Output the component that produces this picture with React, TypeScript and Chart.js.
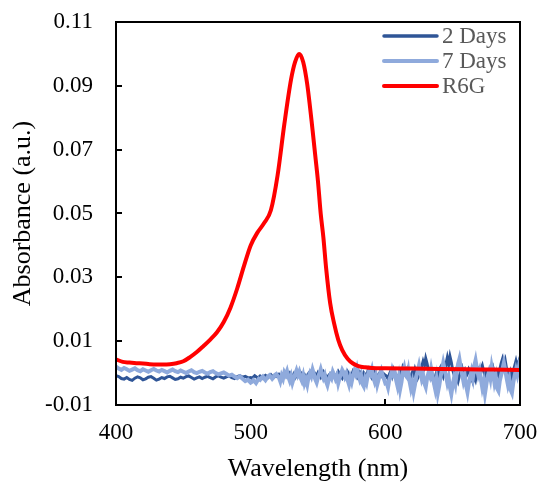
import React, { useEffect, useRef } from "react";
import { Chart, registerables } from "chart.js";

Chart.register(...registerables);

// Baseline spectra wavelength grid (nm): 2 nm steps to 498, then 1 nm steps
const noiseWavelengths = [
  400,402,404,406,408,410,412,414,416,418,420,422,424,426,428,430,432,434,436,438,440,442,444,446,448,450,452,454,456,458,460,462,464,466,468,470,472,474,476,478,480,
  482,484,486,488,490,492,494,496,498,
  500,501,502,503,504,505,506,507,508,509,510,511,512,513,514,515,516,517,518,519,520,
  521,522,523,524,525,526,527,528,529,530,531,532,533,534,535,536,537,538,539,540,
  541,542,543,544,545,546,547,548,549,550,551,552,553,554,555,556,557,558,559,560,
  561,562,563,564,565,566,567,568,569,570,571,572,573,574,575,576,577,578,579,580,
  581,582,583,584,585,586,587,588,589,590,591,592,593,594,595,596,597,598,599,600,
  601,602,603,604,605,606,607,608,609,610,611,612,613,614,615,616,617,618,619,620,
  621,622,623,624,625,626,627,628,629,630,631,632,633,634,635,636,637,638,639,640,
  641,642,643,644,645,646,647,648,649,650,651,652,653,654,655,656,657,658,659,660,
  661,662,663,664,665,666,667,668,669,670,671,672,673,674,675,676,677,678,679,680,
  681,682,683,684,685,686,687,688,689,690,691,692,693,694,695,696,697,698,699,700,
];

const days2 = [
  -0.0008,-0.0011,-0.0017,-0.0019,-0.0014,-0.0020,-0.0023,-0.0016,-0.0012,-0.0015,-0.0021,-0.0018,-0.0013,-0.0011,-0.0016,-0.0022,-0.0019,-0.0014,-0.0017,-0.0012,-0.0010,-0.0015,-0.0020,-0.0018,-0.0013,-0.0016,-0.0011,-0.0009,-0.0014,-0.0019,-0.0015,-0.0012,-0.0017,-0.0013,-0.0010,-0.0014,-0.0018,-0.0012,-0.0009,-0.0013,-0.0016,
  -0.0012,-0.0009,-0.0014,-0.0017,-0.0011,-0.0008,-0.0013,-0.0010,-0.0015,
  -0.0014,-0.0017,-0.0012,-0.0008,-0.0011,-0.0015,-0.0013,-0.0009,-0.0012,-0.0016,-0.0010,-0.0007,-0.0011,-0.0014,-0.0009,-0.0005,-0.0010,-0.0013,-0.0008,-0.0011,-0.0009,
  -0.0004,-0.0010,-0.0006,-0.0014,-0.0002,-0.0008,-0.0012,-0.0004,0.0001,-0.0006,
  -0.0011,-0.0003,-0.0015,-0.0008,-0.0002,-0.0009,0.0002,-0.0004,-0.0012,-0.0006,
  -0.0016,-0.0008,-0.0001,-0.0007,0.0003,-0.0005,-0.0011,-0.0003,-0.0009,0.0001,
  -0.0006,-0.0013,-0.0004,0.0004,-0.0003,-0.0010,-0.0017,-0.0007,-0.0002,-0.0009,
  0.0002,-0.0005,-0.0012,-0.0004,0.0005,-0.0002,-0.0010,-0.0016,-0.0006,0.0000,
  -0.0008,0.0004,-0.0003,-0.0011,-0.0005,0.0006,-0.0001,-0.0009,-0.0014,-0.0004,
  0.0003,-0.0006,-0.0012,0.0001,-0.0004,-0.0010,0.0005,-0.0002,-0.0008,-0.0015,
  -0.0005,0.0004,-0.0003,-0.0011,-0.0006,0.0002,-0.0008,-0.0013,-0.0003,-0.0007,
  -0.0010,-0.0018,-0.0004,0.0006,-0.0008,0.0012,0.0002,-0.0012,-0.0020,-0.0006,
  0.0004,-0.0010,0.0016,0.0006,-0.0004,0.0008,-0.0014,-0.0026,-0.0008,0.0002,
  -0.0006,0.0012,-0.0002,-0.0016,-0.0006,0.0006,0.0020,0.0036,0.0022,0.0046,
  0.0030,0.0008,-0.0006,0.0004,-0.0018,-0.0030,-0.0012,0.0002,-0.0008,0.0010,
  0.0018,0.0002,-0.0010,0.0006,0.0028,0.0048,0.0026,0.0052,0.0034,0.0010,
  -0.0004,0.0006,-0.0014,-0.0026,-0.0008,0.0004,0.0016,-0.0002,0.0008,-0.0010,
  -0.0002,0.0012,0.0004,-0.0016,-0.0028,-0.0010,-0.0022,0.0000,0.0010,-0.0004,
  0.0014,0.0024,0.0006,-0.0008,0.0002,-0.0012,-0.0004,0.0010,0.0002,0.0016,
  -0.0002,-0.0012,0.0004,-0.0006,0.0012,0.0030,0.0044,0.0026,0.0040,0.0014,
  0.0000,-0.0010,0.0004,-0.0014,0.0006,0.0022,0.0038,0.0020,0.0034,0.0012,
];

const days7 = [
  0.0020,0.0014,0.0010,0.0016,0.0012,0.0007,0.0011,0.0015,0.0009,0.0006,0.0012,0.0008,0.0004,0.0009,0.0013,0.0008,0.0005,0.0010,0.0006,0.0002,0.0007,0.0011,0.0006,0.0003,0.0008,0.0004,0.0000,0.0005,0.0009,0.0003,0.0000,0.0004,0.0007,0.0002,-0.0002,0.0003,0.0006,0.0000,-0.0004,-0.0001,0.0002,
  -0.0003,-0.0008,-0.0005,-0.0011,-0.0016,-0.0010,-0.0018,-0.0025,-0.0021,
  -0.0030,-0.0027,-0.0022,-0.0026,-0.0031,-0.0024,-0.0018,-0.0021,-0.0015,-0.0011,-0.0017,-0.0022,-0.0016,-0.0010,-0.0007,-0.0012,-0.0018,-0.0013,-0.0006,-0.0003,-0.0009,
  -0.0014,-0.0026,-0.0008,-0.0018,0.0002,-0.0006,0.0006,-0.0012,-0.0024,-0.0010,
  -0.0030,-0.0016,-0.0004,0.0008,-0.0006,0.0004,-0.0014,-0.0024,-0.0008,-0.0032,
  -0.0020,-0.0036,-0.0012,0.0000,-0.0010,0.0010,-0.0004,-0.0020,-0.0030,-0.0014,
  -0.0002,0.0012,-0.0004,-0.0016,-0.0006,-0.0026,-0.0038,-0.0020,-0.0008,-0.0016,
  0.0004,-0.0006,-0.0018,-0.0008,-0.0032,-0.0016,-0.0004,0.0010,0.0002,-0.0012,
  -0.0002,-0.0022,-0.0036,-0.0014,-0.0028,-0.0008,0.0006,-0.0004,0.0014,-0.0006,
  -0.0020,-0.0008,-0.0034,-0.0042,-0.0018,-0.0030,-0.0006,0.0008,-0.0002,0.0012,
  -0.0012,-0.0026,-0.0010,-0.0036,-0.0020,-0.0004,0.0008,-0.0008,-0.0018,-0.0032,
  -0.0030,-0.0045,-0.0020,-0.0008,0.0010,-0.0005,0.0002,-0.0022,-0.0040,-0.0015,
  -0.0050,-0.0028,0.0004,0.0018,-0.0006,-0.0012,0.0008,-0.0026,-0.0048,-0.0030,
  -0.0058,-0.0036,-0.0010,0.0006,0.0024,0.0002,-0.0018,-0.0004,-0.0032,-0.0044,
  -0.0016,0.0000,-0.0010,0.0014,-0.0008,-0.0030,-0.0050,-0.0022,-0.0062,-0.0040,
  -0.0012,0.0010,0.0032,0.0012,-0.0008,-0.0030,-0.0014,-0.0046,-0.0066,-0.0038,
  -0.0016,-0.0034,0.0002,0.0028,0.0044,0.0018,-0.0004,-0.0026,-0.0010,-0.0040,
  -0.0060,-0.0032,-0.0012,0.0006,-0.0014,0.0022,0.0040,0.0014,-0.0006,0.0008,
  -0.0020,-0.0046,-0.0028,-0.0064,-0.0036,-0.0010,0.0004,-0.0016,0.0020,-0.0002,
  -0.0030,-0.0012,-0.0048,-0.0056,-0.0024,-0.0006,0.0012,0.0032,0.0010,-0.0014,
  -0.0036,-0.0018,-0.0052,-0.0062,-0.0030,-0.0008,0.0010,-0.0006,0.0016,-0.0004,
];

const r6gWavelengths = [
  400,405,410,415,420,425,430,435,440,445,450,455,460,465,470,475,480,485,490,495,500,505,510,515,520,525,530,533,536,539,542,546,548,550,552,554,556,559,562,565,568,572,576,580,585,590,600,620,640,660,680,700,
];
const r6g = [
  0.0043,0.0035,0.0033,0.0031,0.0030,0.0028,0.0027,0.0027,0.0028,0.0031,0.0037,0.0050,0.0066,0.0085,0.0105,0.0128,0.0160,0.0205,0.0265,0.0335,0.0400,0.0440,0.0470,0.0510,0.0620,0.0780,0.0920,0.0975,0.1000,0.0975,0.0905,0.0760,0.0680,0.0600,0.0500,0.0425,0.0330,0.0220,0.0155,0.0105,0.0072,0.0045,0.0030,0.0022,0.0018,0.0016,0.0015,0.0014,0.0013,0.0012,0.0011,0.0010,
];

const xTicks = [400, 500, 600, 700];
const yTicks = [-0.01, 0.01, 0.03, 0.05, 0.07, 0.09, 0.11];

const FONT = "'Liberation Serif', 'Times New Roman', serif";

const frameLegendPlugin = {
  id: "frameLegend",
  afterDatasetsDraw(chart: any) {
    const { ctx, chartArea } = chart;
    const { left, right, top, bottom } = chartArea;
    const xs = chart.scales.x;
    const ys = chart.scales.y;
    ctx.save();
    ctx.strokeStyle = "#000";
    ctx.lineWidth = 2;
    ctx.strokeRect(left, top, right - left, bottom - top);
    ys.ticks.forEach((t: any) => {
      const py = Math.round(ys.getPixelForValue(t.value));
      ctx.beginPath();
      ctx.moveTo(left, py);
      ctx.lineTo(left + 6, py);
      ctx.stroke();
    });
    xs.ticks.forEach((t: any) => {
      const px = Math.round(xs.getPixelForValue(t.value));
      ctx.beginPath();
      ctx.moveTo(px, bottom);
      ctx.lineTo(px, bottom - 6);
      ctx.stroke();
    });
    const items = [...chart.data.datasets].sort(
      (a: any, b: any) => a.legendIndex - b.legendIndex
    );
    ctx.font = `23px ${FONT}`;
    ctx.textBaseline = "middle";
    ctx.textAlign = "left";
    items.forEach((ds: any, i: number) => {
      const yy = top + 14 + i * 25;
      ctx.strokeStyle = ds.borderColor;
      ctx.lineWidth = ds.legendWidth;
      ctx.lineCap = "round";
      ctx.beginPath();
      ctx.moveTo(right - 136, yy);
      ctx.lineTo(right - 83, yy);
      ctx.stroke();
      ctx.fillStyle = "#595959";
      ctx.fillText(ds.label, right - 78, yy + 1);
    });
    ctx.restore();
  },
};

const zeroPad = (s: any) => {
  s.paddingTop = 0;
  s.paddingBottom = 0;
  s.paddingLeft = 0;
  s.paddingRight = 0;
};

export default function App() {
  const ref = useRef<HTMLCanvasElement | null>(null);
  useEffect(() => {
    document.body.style.margin = "0";
    const canvas = ref.current;
    if (!canvas) return;
    const chart = new Chart(canvas, {
      type: "line",
      data: {
        datasets: [
          {
            label: "2 Days",
            data: noiseWavelengths.map((w, i) => ({ x: w, y: days2[i] })),
            borderColor: "#2F5597",
            borderWidth: 3,
            pointRadius: 0,
            tension: 0,
            order: 3,
            legendIndex: 0,
            legendWidth: 3.5,
          } as any,
          {
            label: "7 Days",
            data: noiseWavelengths.map((w, i) => ({ x: w, y: days7[i] })),
            borderColor: "#8FAADC",
            borderWidth: 4,
            pointRadius: 0,
            tension: 0,
            order: 2,
            legendIndex: 1,
            legendWidth: 4,
          } as any,
          {
            label: "R6G",
            data: r6gWavelengths.map((w, i) => ({ x: w, y: r6g[i] })),
            borderColor: "#FF0000",
            borderWidth: 4,
            pointRadius: 0,
            cubicInterpolationMode: "monotone",
            order: 1,
            legendIndex: 2,
            legendWidth: 4,
          } as any,
        ],
      },
      options: {
        animation: false,
        responsive: false,
        maintainAspectRatio: false,
        layout: { padding: { top: 22, right: 20, left: 0, bottom: 0 } },
        plugins: { legend: { display: false }, tooltip: { enabled: false } },
        scales: {
          x: {
            type: "linear",
            min: 400,
            max: 700,
            grid: { display: false, drawTicks: false },
            border: { display: false },
            afterBuildTicks: (s: any) => {
              s.ticks = xTicks.map((v) => ({ value: v }));
            },
            afterFit: (s: any) => {
              s.height = 80;
              zeroPad(s);
            },
            ticks: {
              color: "#000",
              padding: 14,
              maxRotation: 0,
              font: { family: FONT, size: 23 },
              callback: (v: any) => String(v),
            },
            title: {
              display: true,
              text: "Wavelength (nm)",
              color: "#000",
              font: { family: FONT, size: 26 },
              padding: { top: 0, bottom: 0 },
            },
          },
          y: {
            type: "linear",
            min: -0.01,
            max: 0.11,
            grid: { display: false, drawTicks: false },
            border: { display: false },
            afterBuildTicks: (s: any) => {
              s.ticks = yTicks.map((v) => ({ value: v }));
            },
            afterFit: (s: any) => {
              s.width = 116;
              zeroPad(s);
            },
            ticks: {
              color: "#000",
              padding: 23,
              font: { family: FONT, size: 23 },
              callback: (v: any) => Number(v).toFixed(2),
            },
            title: {
              display: true,
              text: "Absorbance (a.u.)",
              color: "#000",
              font: { family: FONT, size: 26 },
              padding: { top: 8, bottom: 0 },
            },
          },
        },
      } as any,
      plugins: [frameLegendPlugin],
    });
    return () => chart.destroy();
  }, []);
  return (
    <div style={{ width: 540, height: 485, background: "#fff" }}>
      <canvas ref={ref} width={540} height={485} style={{ width: 540, height: 485, display: "block" }} />
    </div>
  );
}
